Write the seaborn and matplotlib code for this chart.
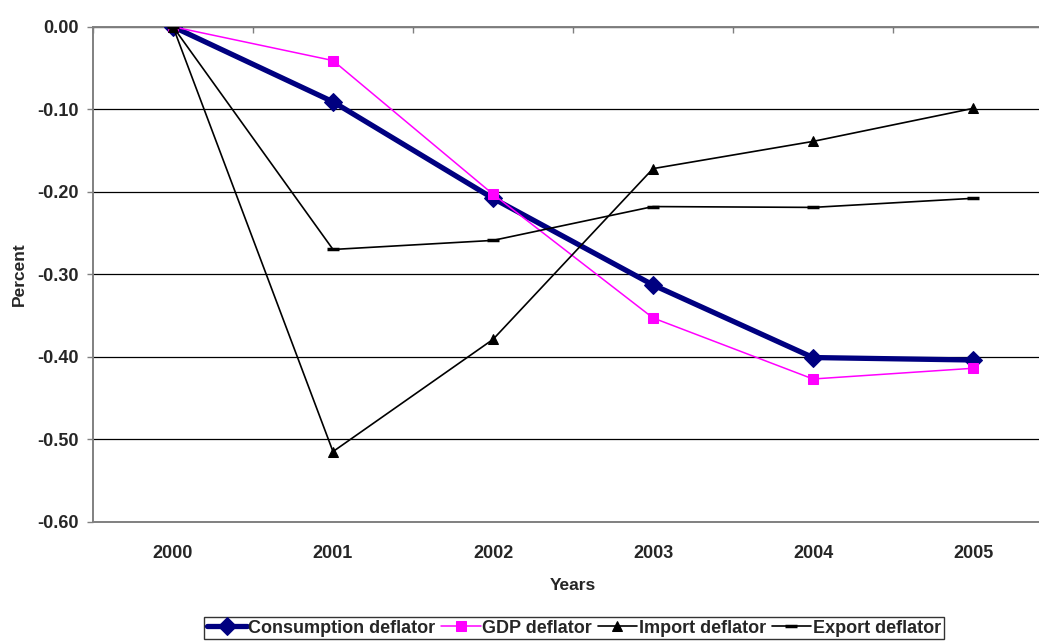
import matplotlib
matplotlib.use("Agg")
import matplotlib.pyplot as plt
from matplotlib.ticker import FixedLocator, FuncFormatter
import seaborn as sns
import pandas as pd

years = ["2000", "2001", "2002", "2003", "2004", "2005"]
consumption = [0.0, -0.091, -0.208, -0.313, -0.401, -0.404]
gdp = [0.0, -0.041, -0.203, -0.353, -0.427, -0.414]
imports = [0.0, -0.515, -0.379, -0.172, -0.139, -0.099]
exports = [0.0, -0.270, -0.259, -0.218, -0.219, -0.208]

sns.set_theme(style="white")
plt.rcParams["font.family"] = ["Liberation Sans", "DejaVu Sans"]
plt.rcParams["font.weight"] = "bold"

fig = plt.figure(figsize=(10.39, 6.41), dpi=100)
ax = fig.add_axes([0.0895, 0.1861, 0.924, 0.7722])

pos = list(range(len(years)))
series = [
    ("Consumption deflator", consumption, dict(color="#000080", lw=3.8, marker="D", ms=9.5, mec="#000080")),
    ("GDP deflator", gdp, dict(color="#FF00FF", lw=1.1, marker="s", ms=6.5, mec="#FF00FF")),
    ("Import deflator", imports, dict(color="black", lw=1.2, marker="^", ms=7, mec="black")),
    ("Export deflator", exports, dict(color="black", lw=1.2, marker="_", ms=8, mew=2.5, mec="black")),
]

for i, (name, vals, style) in enumerate(series):
    df = pd.DataFrame({"x": pos, "y": vals})
    sns.lineplot(data=df, x="x", y="y", ax=ax, label=name, zorder=3 + i, **style)

ax.set_xlim(-0.5, 5.5)
ax.set_ylim(-0.60, 0.0)
ax.yaxis.set_major_locator(FixedLocator([0.0, -0.1, -0.2, -0.3, -0.4, -0.5, -0.6]))
ax.yaxis.set_major_formatter(FuncFormatter(lambda v, _: f"{v:.2f}" if abs(v) > 1e-9 else "0.00"))
ax.set_xticks(pos)
ax.set_xticklabels(years)
ax.xaxis.set_minor_locator(FixedLocator([p - 0.5 for p in range(len(years) + 1)]))

ax.grid(axis="y", color="black", lw=0.9)
ax.grid(axis="x", visible=False)
ax.set_axisbelow(True)

for side in ["left", "bottom", "top"]:
    ax.spines[side].set_visible(True)
    ax.spines[side].set_color("#808080")
    ax.spines[side].set_linewidth(1.4)
ax.spines["right"].set_visible(False)

ax.tick_params(axis="y", which="major", left=True, direction="out", length=4, width=1,
               color="#808080", pad=6, labelsize=13)
ax.tick_params(axis="x", which="major", bottom=False, top=False, length=0, pad=17, labelsize=13)
ax.tick_params(axis="x", which="minor", bottom=False, top=True, direction="in", length=4,
               width=1, color="#808080")
for lbl in ax.get_xticklabels() + ax.get_yticklabels():
    lbl.set_fontweight("bold")

ax.set_xlabel("Years", fontsize=12.5, fontweight="bold", labelpad=11)
ax.set_ylabel("Percent", fontsize=12.5, fontweight="bold", labelpad=8)

ax.legend(loc="upper center", bbox_to_anchor=(0.5525, 0.0374), bbox_transform=fig.transFigure,
          ncol=4, frameon=True, fancybox=False, edgecolor="black",
          handlelength=2.2, handletextpad=0.1, columnspacing=0.3, borderpad=0.15,
          borderaxespad=0, prop={"weight": "bold", "size": 13})
leg = ax.get_legend()
leg.get_frame().set_linewidth(1.0)

fig.savefig("out.png", dpi=100)
